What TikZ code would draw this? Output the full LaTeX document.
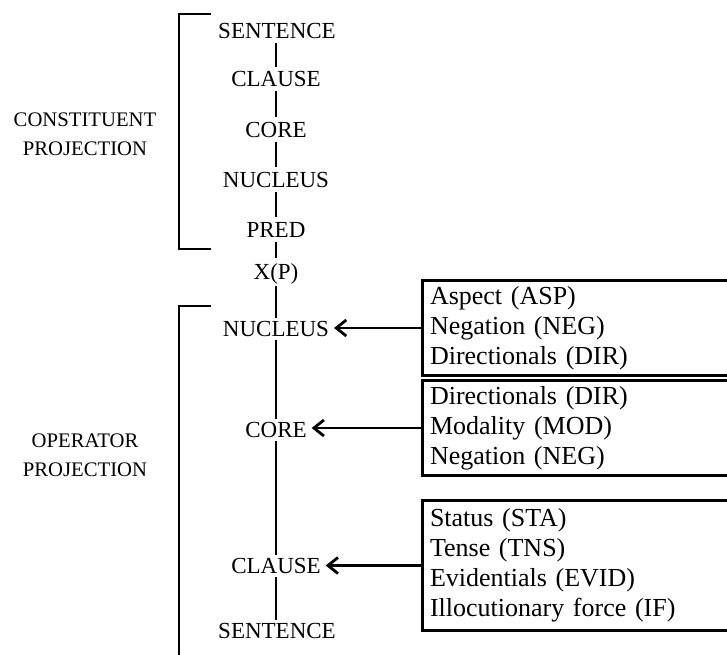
\documentclass[tikz,border=0pt]{standalone}
\usepackage{fontspec}
\setmainfont{Liberation Serif}
\usetikzlibrary{arrows.meta}
\begin{document}
\begin{tikzpicture}[x=1pt,y=-1pt,
  lvl/.style={inner sep=0pt, outer sep=4.5pt, text height=15.5pt, text depth=0pt,
    font=\fontsize{23}{27}\selectfont},
  side/.style={align=center, inner sep=0pt, font=\fontsize{20.7}{28.5}\selectfont},
  link/.style={line width=1.8pt},
  brk/.style={line width=1.8pt},
  opbox/.style={draw, line width=3pt, anchor=north west, align=left,
    inner xsep=7.5pt, inner ysep=0pt, text width=330pt,
    font=\fontsize{26}{30}\selectfont},
  oparrow/.style={line width=2.8pt, -{Straight Barb[length=10pt,width=16pt,line width=2.8pt]},
    shorten >=2pt}
]
\useasboundingbox (0,0) rectangle (727,654);
\clip (0,0) rectangle (727,654);

% constituent projection
\node[lvl] (s1) at (277,31) {SENTENCE};
\node[lvl] (c1) at (276,79) {CLAUSE};
\node[lvl] (r1) at (276,129.5) {CORE};
\node[lvl] (n1) at (276,179.5) {NUCLEUS};
\node[lvl] (p1) at (276,229.5) {PRED};
\node[lvl, outer ysep=6pt] (xp) at (276,272) {X(P)};

\draw[link] (s1.south -| c1) -- (c1.north);
\draw[link] (c1.south) -- (r1.north);
\draw[link] (r1.south) -- (n1.north);
\draw[link] (n1.south) -- (p1.north);
\draw[link] (p1.south) -- (xp.north);

% operator projection
\node[lvl, outer sep=3pt] (n2) at (276,329) {NUCLEUS};
\node[lvl, outer sep=3pt] (r2) at (276,430) {CORE};
\node[lvl, outer sep=3pt] (c2) at (276,566) {CLAUSE};
\node[lvl, outer sep=3pt] (s2) at (277,631) {SENTENCE};

\draw[link] (xp.south) -- (n2.north);
\draw[link] (n2.south) -- (r2.north);
\draw[link] (r2.south) -- (c2.north);
\draw[link] (c2.south) -- (s2.north -| c2);

% brackets and their labels
\coordinate (ct) at (211,14);
\coordinate (cb) at (211,249);
\draw[brk] (ct) -- (179,14) -- (179,249) -- (cb);
\node[side] (clab) at (85,134) {CONSTITUENT\\PROJECTION};

\coordinate (ot) at (211,306);
\coordinate (ob) at (179,660);
\draw[brk] (ot) -- (179,306) -- (ob);
\node[side] (olab) at (85,455) {OPERATOR\\PROJECTION};

% operator boxes
\node[opbox, minimum height=95pt] (b1) at (421,279)
  {Aspect (ASP)\\Negation (NEG)\\Directionals (DIR)};
\node[opbox, minimum height=95pt] (b2) at (421,379)
  {Directionals (DIR)\\Modality (MOD)\\Negation (NEG)};
\node[opbox, minimum height=130pt] (b3) at (421,499)
  {Status (STA)\\Tense (TNS)\\Evidentials (EVID)\\Illocutionary force (IF)};

\draw[oparrow] (b1.west) -- (b1.west -| n2.east);
\draw[oparrow] (b2.west) -- (b2.west -| r2.east);
\draw[oparrow] (b3.west) -- (b3.west -| c2.east);
\end{tikzpicture}
\end{document}
